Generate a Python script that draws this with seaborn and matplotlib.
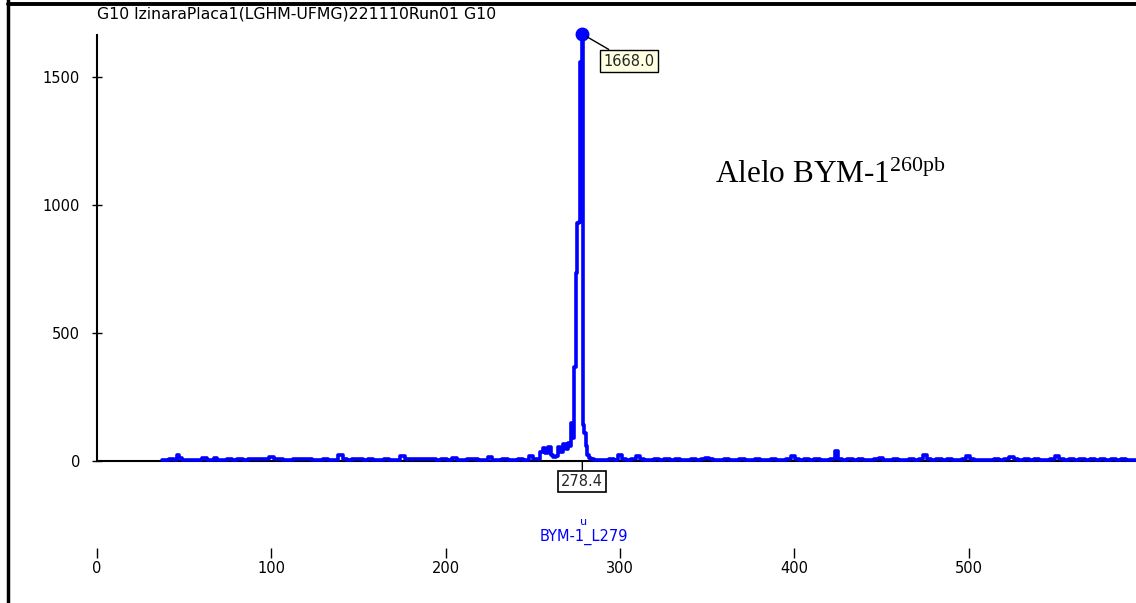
import matplotlib
matplotlib.use('Agg')
import matplotlib.pyplot as plt
import seaborn as sns
import pandas as pd
from matplotlib.lines import Line2D

# ---- data ----
sizes = [37, 40, 43, 45, 46.5, 48, 50, 53, 56, 59, 62, 64, 66, 67.7, 70, 73, 76, 79, 82, 85,
         88, 91, 94, 97, 100.5, 103, 105, 108, 111, 114, 117, 120, 122, 125, 128, 131, 134, 137, 140, 142,
         145, 148, 151, 154, 157, 160, 163, 166, 169, 172, 175.6, 178, 181, 184, 187, 190, 193, 196, 199, 202,
         205.4, 208, 211, 214, 217, 220, 223, 225.5, 228, 231, 234, 237, 240, 243, 246, 249.4, 251, 253, 255, 256.5,
         258, 259.5, 261, 262.5, 264, 265, 266.5, 268, 269.5, 270.5, 271.5, 272.5, 273.3, 274.3, 275.2, 276, 276.8, 277.6, 278.4, 279.2,
         280, 280.8, 281.6, 282.5, 284, 286, 289, 292, 295, 298, 300, 302, 305, 308, 310.4, 312, 315, 318, 321, 324,
         327, 330, 333, 336, 339, 342, 345, 348, 350, 352, 355, 358, 361, 364, 367, 370, 373, 376, 379, 382,
         385, 388, 391, 394, 397, 399.4, 401, 404, 407, 410, 413, 416, 419, 422, 424.6, 426, 429, 432, 435, 438,
         441, 444, 447, 450, 452, 455, 458, 461, 464, 467, 470, 473, 475, 477, 480, 483, 486, 489, 492, 495,
         497, 500, 502, 504, 507, 510, 513, 516, 519, 522, 524.8, 527, 530, 533, 536, 539, 542, 545, 548, 550.6,
         553, 556, 559, 562, 565, 568, 571, 574, 577, 580, 583, 586, 589, 592, 596]
rfu = [3, 4, 8, 4, 22, 10, 5, 3, 4, 3, 12, 5, 4, 10, 3, 3, 6, 4, 6, 3,
       6, 7, 8, 7, 15, 6, 9, 5, 3, 7, 6, 8, 6, 4, 3, 6, 4, 5, 22, 6,
       3, 6, 7, 5, 6, 5, 3, 6, 5, 4, 20, 8, 6, 7, 7, 6, 8, 5, 9, 4,
       12, 5, 3, 6, 7, 4, 3, 14, 5, 4, 6, 5, 3, 7, 4, 20, 6, 8, 35, 50,
       30, 55, 25, 15, 20, 55, 35, 65, 45, 70, 60, 150, 90, 367, 734, 930, 933, 1558, 1668, 140,
       110, 60, 25, 12, 6, 3, 5, 4, 6, 5, 22, 8, 5, 6, 18, 6, 4, 5, 6, 4,
       6, 5, 6, 4, 5, 6, 5, 7, 12, 6, 4, 5, 6, 4, 5, 6, 5, 4, 6, 5,
       4, 6, 5, 4, 6, 18, 8, 5, 6, 4, 6, 5, 4, 6, 38, 8, 5, 6, 4, 6,
       5, 4, 6, 12, 5, 4, 6, 5, 4, 6, 5, 7, 25, 8, 5, 6, 4, 6, 5, 4,
       8, 20, 6, 2, 2, 2, 3, 7, 5, 8, 15, 6, 5, 6, 4, 6, 5, 4, 7, 20,
       6, 5, 6, 4, 6, 5, 6, 4, 6, 5, 6, 4, 6, 5, 5]

x_ticks = [0, 100, 200, 300, 400, 500]
y_ticks = [0, 500, 1000, 1500]
peak_size = 278.4
peak_rfu = 1668.0
bin_size = 279
bin_label = "BYM-1_L279"
title = "G10 IzinaraPlaca1(LGHM-UFMG)221110Run01 G10"
allele_main = "Alelo BYM-1"
allele_sup = "260pb"

BLUE = '#0000FF'

sns.set_theme(style='white')
plt.rcParams['font.family'] = ['DejaVu Sans']
plt.rcParams['mathtext.fontset'] = 'custom'
plt.rcParams['mathtext.rm'] = 'Liberation Serif'

W, H = 1136, 603
fig = plt.figure(figsize=(W / 100, H / 100), dpi=100)
fig.patch.set_facecolor('white')
ax = fig.add_axes([97 / W, 1 - 558 / H, 1 - 97 / W, (558 - 30) / H])
ax.set_facecolor('white')

df = pd.DataFrame({'size': sizes, 'rfu': rfu})
ax.axhline(0, color='black', lw=1.5, zorder=1)
sns.lineplot(data=df, x='size', y='rfu', color=BLUE, lw=2.6, drawstyle='steps-mid',
             estimator=None, ax=ax, zorder=2)

ax.set_xlim(0, 596)
ax.set_ylim(-379, 1684)
ax.set_xlabel('')
ax.set_ylabel('')

for s in ['top', 'right', 'bottom']:
    ax.spines[s].set_visible(False)
ax.spines['left'].set_color('black')
ax.spines['left'].set_linewidth(1.5)
ax.spines['left'].set_bounds(0, 1664)

ax.set_xticks(x_ticks)
ax.set_xticklabels([str(t) for t in x_ticks])
ax.set_yticks(y_ticks)
ax.set_yticklabels([str(t) for t in y_ticks])
ax.tick_params(axis='y', direction='inout', length=6.5, width=1, pad=9, colors='black',
               labelsize=10.5, left=True)
ax.tick_params(axis='x', direction='in', length=7.2, width=1, pad=2, colors='black',
               labelsize=10.5, bottom=True)
ax.grid(False)

# peak marker and labels
ax.plot([peak_size], [peak_rfu], 'o', color=BLUE, ms=9, zorder=4, clip_on=False)
ax.annotate(f"{peak_rfu:.1f}", xy=(peak_size, peak_rfu), xytext=(15, -14),
            textcoords='offset points', ha='left', va='top', fontsize=10.5,
            bbox=dict(boxstyle='square,pad=0.25', fc='#FFFFE1', ec='black', lw=1),
            arrowprops=dict(arrowstyle='-', color='black', lw=1, shrinkA=0, shrinkB=4),
            zorder=5)
ax.annotate(f"{peak_size:.1f}", xy=(peak_size, 0), xytext=(0, -15),
            textcoords='offset points', ha='center', va='center', fontsize=10.5,
            bbox=dict(boxstyle='square,pad=0.2', fc='white', ec='black', lw=1.2),
            arrowprops=dict(arrowstyle='-', color='black', lw=1, shrinkA=0, shrinkB=0),
            zorder=1)
ax.annotate("u", xy=(bin_size, 0), xytext=(0, -44), textcoords='offset points',
            ha='center', va='center', fontsize=8, color=BLUE)
ax.annotate(bin_label, xy=(bin_size, 0), xytext=(0, -55), textcoords='offset points',
            ha='center', va='center', fontsize=10.5, color=BLUE)

# allele annotation
ax.text(354.6, 1086, allele_main + r"$^{\mathrm{" + allele_sup + r"}}$",
        fontfamily='Liberation Serif', fontsize=22.5, ha='left', va='baseline', color='black')

# title
fig.text(97 / W, 1 - 14 / H, title, ha='left', va='center', fontsize=11.3, color='black')

# frame lines
fig.add_artist(Line2D([7.5 / W, 7.5 / W], [0, 1], transform=fig.transFigure, color='black', lw=2.5))
fig.add_artist(Line2D([7.5 / W, 1], [1 - 4 / H, 1 - 4 / H], transform=fig.transFigure, color='black', lw=2.8))

fig.savefig('out.png', dpi=100, facecolor='white')
